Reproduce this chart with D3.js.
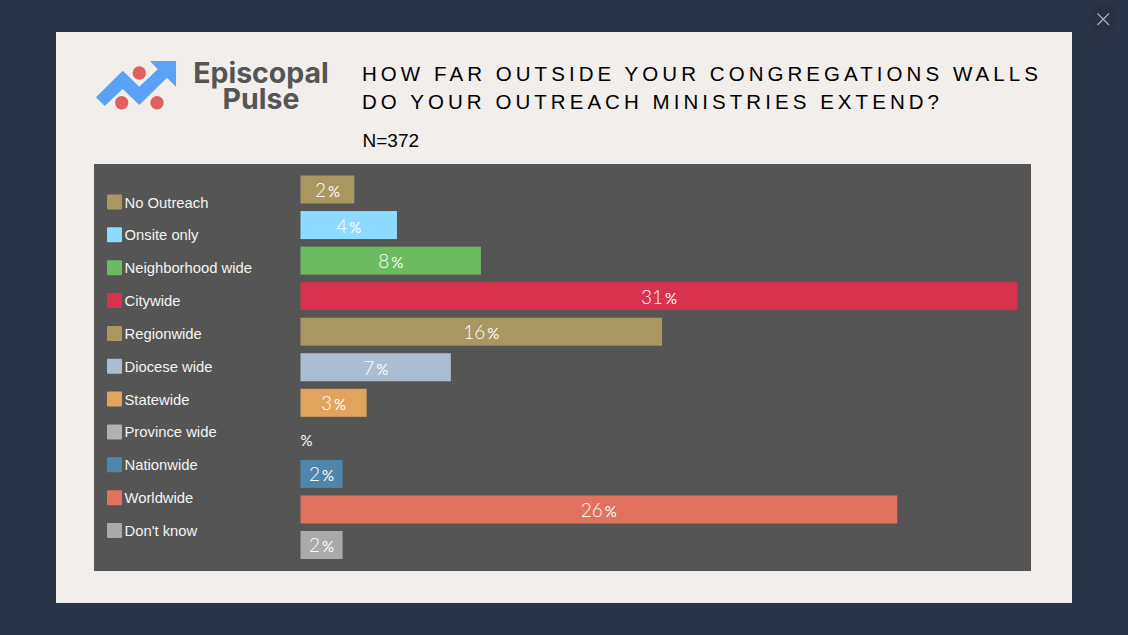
<!DOCTYPE html>
<html><head><meta charset="utf-8">
<script src="https://cdn.jsdelivr.net/npm/d3@7/dist/d3.min.js"></script>
<style>html,body{margin:0;padding:0;background:#2a3447;overflow:hidden}svg{display:block}</style>
</head><body><svg id="c" width="1128" height="635"></svg>
<script>
const categories=["No Outreach","Onsite only","Neighborhood wide","Citywide","Regionwide","Diocese wide","Statewide","Province wide","Nationwide","Worldwide","Don't know"];
const values=[2.33,4.17,7.8,31,15.63,6.5,2.86,0,1.82,25.8,1.82];
const valueLabels=["2","4","8","31","16","7","3","","2","26","2"];
const colors=["#a99660","#8ddcff","#6cbb60","#d93251","#a99660","#abbdd0","#e0a45e","#b0b0b0","#4f86ab","#e0725f","#aaaaaa"];
const titleLines=["HOW FAR OUTSIDE YOUR CONGREGATIONS WALLS","DO YOUR OUTREACH MINISTRIES EXTEND?"];
const sampleLabel="N=372";
const logoWords=["Episcopal","Pulse"];

const svg=d3.select("#c");
svg.append("rect").attr("width",1128).attr("height",635).attr("fill","#2a3447");
svg.append("rect").attr("x",56).attr("y",32).attr("width",1016).attr("height",571).attr("fill","#f1eeeb");

// close button
svg.append("circle").attr("cx",1103).attr("cy",19).attr("r",14).attr("fill","#283042");
svg.append("path").attr("d","M1097.5 13.5L1109 25M1109 13.5L1097.5 25").attr("stroke","#a9aeb8").attr("stroke-width",1.2).attr("fill","none");

// logo
svg.append("path").attr("d","M96 97.3L122.7 70.7L139.3 86.7L157.7 69.3L150 61H176V86.7L167 77.7L139.3 105L122.7 89L104.7 106Z").attr("fill","#5aa2f8");
[[139.3,73],[121.7,102.7],[157,102.7]].forEach(p=>svg.append("circle").attr("cx",p[0]).attr("cy",p[1]).attr("r",6.7).attr("fill","#e06060"));
const logoText=svg.append("text").attr("text-anchor","middle")
  .style("font-family","Inter").style("font-weight",700).style("font-size","28.5px").attr("fill","#555");
logoText.selectAll("tspan").data(logoWords).join("tspan")
  .attr("x",261).attr("y",(d,i)=>83+i*25.5).text(d=>d);

// title
svg.selectAll("text.title").data(titleLines).join("text").attr("class","title")
  .attr("x",362).attr("y",(d,i)=>80.5+i*28)
  .style("font-family","Liberation Sans").style("font-size","20.5px").style("letter-spacing","4.05px").attr("fill","#000").text(d=>d);
svg.append("text").attr("x",362.5).attr("y",146.5).style("font-family","Liberation Sans").style("font-size","19px").attr("fill","#000").text(sampleLabel);

// panel
svg.append("rect").attr("x",94).attr("y",164).attr("width",937).attr("height",407).attr("fill","#555555");

const x=d3.scaleLinear().domain([0,31]).range([300.5,1017.5]);
const y=d3.scaleBand().domain(categories).range([175.5,559]).paddingInner(0.212);
const ly=d3.scalePoint().domain(categories).range([202,530.5]);
const colorOf=d3.scaleOrdinal().domain(categories.map((d,i)=>i)).range(colors);

// bars
const rows=categories.map((c,i)=>({c,v:values[i],l:valueLabels[i],i}));
svg.selectAll("rect.bar").data(rows.filter(d=>d.v>0)).join("rect").attr("class","bar")
  .attr("x",x(0)).attr("y",d=>y(d.c)).attr("width",d=>x(d.v)-x(0)).attr("height",y.bandwidth())
  .attr("fill",d=>colorOf(d.i));

// value labels
const lab=svg.selectAll("text.val").data(rows).join("text").attr("class","val")
  .attr("x",d=>d.v>0?x(d.v/2):x(0)).attr("y",d=>y(d.c)+y.bandwidth()/2+7.5)
  .attr("text-anchor",d=>d.v>0?"middle":"start")
  .style("font-family","Lato").style("font-weight",300).attr("fill","#fff");
lab.append("tspan").style("font-size","19px").text(d=>d.l);
lab.append("tspan").style("font-size","15px").style("font-weight",400).attr("dx",d=>d.v>0?2:0).text("%");

// legend
svg.selectAll("rect.sw").data(rows).join("rect").attr("class","sw")
  .attr("x",107).attr("y",d=>ly(d.c)-7.5).attr("width",15).attr("height",15).attr("rx",1)
  .attr("fill",d=>colorOf(d.i));
svg.selectAll("text.lg").data(rows).join("text").attr("class","lg")
  .attr("x",124.5).attr("y",d=>ly(d.c)+5.5)
  .style("font-family","Liberation Sans").style("font-size","14.8px").attr("fill","#f4f4f4").text(d=>d.c);
</script></body></html>
